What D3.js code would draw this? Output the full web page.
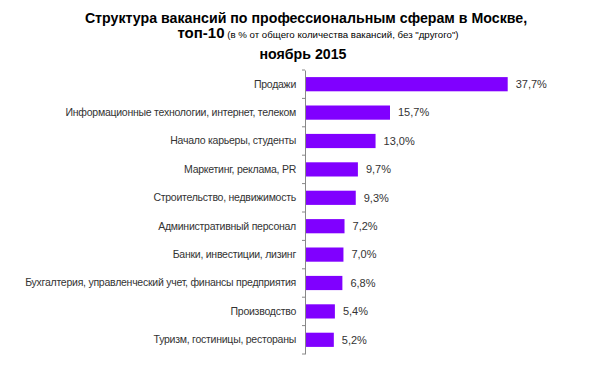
<!DOCTYPE html>
<html><head><meta charset="utf-8">
<script src="https://cdn.jsdelivr.net/npm/d3@7"></script>
<style>body{margin:0;background:#fff}svg{display:block;font-family:"Liberation Sans",Arial,sans-serif}</style>
</head><body><svg id="c" width="600" height="365"></svg>
<script>
const categories = ["Продажи","Информационные технологии, интернет, телеком","Начало карьеры, студенты","Маркетинг, реклама, PR","Строительство, недвижимость","Административный персонал","Банки, инвестиции, лизинг","Бухгалтерия, управленческий учет, финансы предприятия","Производство","Туризм, гостиницы, рестораны"];
const values = [37.7,15.7,13.0,9.7,9.3,7.2,7.0,6.8,5.4,5.2];
const valueLabels = ["37,7%","15,7%","13,0%","9,7%","9,3%","7,2%","7,0%","6,8%","5,4%","5,2%"];
const titleLine1 = "Структура вакансий по профессиональным сферам в Москве,";
const titleLine2a = "топ-10";
const titleLine2b = " (в % от общего количества вакансий, без \"другого\")";
const titleLine3 = "ноябрь 2015";

const svg = d3.select("#c");
const x0 = 305;
const x = d3.scaleLinear().domain([0,40]).range([x0, x0+214]);
const y = d3.scaleBand().domain(categories).range([70,354]).paddingInner(0.5).paddingOuter(0.25);

// title
const t = svg.append("g").attr("fill","#000").attr("text-anchor","middle");
t.append("text").attr("x",306).attr("y",23).attr("font-size",14.2).attr("font-weight","bold").text(titleLine1);
const l2 = t.append("text").attr("x",318).attr("y",38);
l2.append("tspan").attr("font-size",15).attr("font-weight","bold").text(titleLine2a);
l2.append("tspan").attr("font-size",9.7).text(titleLine2b);
t.append("text").attr("x",303).attr("y",59).attr("font-size",14.2).attr("font-weight","bold").text(titleLine3);

// bars
svg.append("g").selectAll("rect").data(values).join("rect")
  .attr("x", x(0)+1).attr("y",(d,i)=>y(categories[i]))
  .attr("width", d=>x(d)-x(0)).attr("height", y.bandwidth())
  .attr("fill","#8000ff");

// value labels
svg.append("g").selectAll("text").data(values).join("text")
  .attr("x", d=>x(d)+9).attr("y",(d,i)=>y(categories[i])+y.bandwidth()/2)
  .attr("dy","0.35em").attr("font-size",11).attr("fill","#333")
  .text((d,i)=>valueLabels[i]);

// axis with category labels
const ax = svg.append("g").attr("transform",`translate(${x0},0)`)
  .call(d3.axisLeft(y).tickSize(0).tickPadding(9));
ax.select(".domain").attr("stroke","#888");
ax.selectAll("text").attr("font-size",10.5).attr("letter-spacing","-0.25px").attr("fill","#333").attr("font-family","Liberation Sans, Arial, sans-serif");
// boundary ticks
const step = y.step();
const bounds = d3.range(categories.length+1).map(i=> i===0 ? y(categories[0]) - step*0.25 : y(categories[i-1]) + y.bandwidth() + step*0.25);
svg.append("g").selectAll("line").data(bounds).join("line")
  .attr("x1",x0-3).attr("x2",x0).attr("y1",d=>d).attr("y2",d=>d)
  .attr("stroke","#888");
</script></body></html>
